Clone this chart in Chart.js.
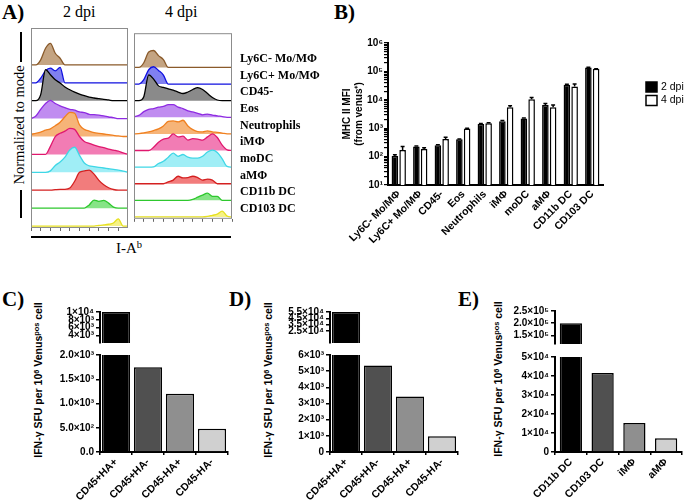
<!DOCTYPE html>
<html>
<head>
<meta charset="utf-8">
<script src="https://cdn.jsdelivr.net/npm/chart.js@4.4.1/dist/chart.umd.min.js"></script>
<style>
  body { margin: 0; width: 685px; height: 504px; position: relative; overflow: hidden; background: #fff;
         font-family: "Liberation Sans", Arial, sans-serif; color: #000; }
  canvas { position: absolute; }
  .t { position: absolute; white-space: nowrap; line-height: 1; }
  .serif { font-family: "Liberation Serif", "Times New Roman", serif; }
  .letter { font-family: "Liberation Serif", serif; font-weight: bold; font-size: 21px; }
  .rot { transform: translate(-50%, -50%) rotate(-90deg); }
  .ytitle { font-weight: bold; font-size: 10.5px; }
  sup { font-size: 70%; vertical-align: 0.45em; }
  .bar { position: absolute; background: #000; }
</style>
</head>
<body>
<div class="t letter" style="left:2px;top:2px">A)</div>
<div class="t serif" style="left:63px;top:4px;font-size:16px">2 dpi</div>
<div class="t serif" style="left:165px;top:4px;font-size:16px">4 dpi</div>
<div class="t serif rot" style="left:19px;top:125px;font-size:14.5px">Normalized to mode</div>
<div class="bar" style="left:20px;top:32px;width:2px;height:30px"></div>
<div class="bar" style="left:20px;top:190px;width:2px;height:28px"></div>
<div class="bar" style="left:31px;top:236px;width:200px;height:2px"></div>
<div class="t serif" style="left:116px;top:240px;font-size:15px">I-A<sup>b</sup></div>
<div class="t letter" style="left:334px;top:2px">B)</div>
<div class="t letter" style="left:2px;top:289px">C)</div>
<div class="t letter" style="left:229px;top:289px">D)</div>
<div class="t letter" style="left:458px;top:289px">E)</div>
<div class="t ytitle rot" style="left:38px;top:380px">IFN-γ SFU per 10<sup>6</sup> Venus<sup>pos</sup> cell</div>
<div class="t ytitle rot" style="left:268px;top:380px">IFN-γ SFU per 10<sup>6</sup> Venus<sup>pos</sup> cell</div>
<div class="t ytitle rot" style="left:498px;top:379px">IFN-γ SFU per 10<sup>6</sup> Venus<sup>pos</sup> cell</div>

<script>
// ---- data ----
const cells = ['Ly6C- Mo/MΦ', 'Ly6C+ Mo/MΦ', 'CD45-', 'Eos', 'Neutrophils', 'iMΦ', 'moDC', 'aMΦ', 'CD11b DC', 'CD103 DC'];

// I-Ab histogram bins (log fluorescence, % of plot width) and heights (% of row spacing)
const bins = [0, 5, 10, 15, 20, 25, 30, 35, 40, 45, 50, 55, 60, 65, 70, 75, 80, 85, 90, 95, 100];
const hist2dpi = [
  [0, 0, 28, 93, 120, 65, 37, 0, 0, 0, 0, 0, 0, 0, 0, 0, 0, 0, 0, 0, 0],          // Ly6C- Mo/MΦ
  [0, 0, 26, 67, 82, 67, 86, 0, 0, 0, 0, 0, 0, 0, 0, 0, 0, 0, 0, 0, 0],           // Ly6C+ Mo/MΦ
  [0, 0, 34, 173, 145, 117, 99, 76, 61, 48, 37, 28, 20, 15, 11, 7, 4, 0, 0, 0, 0],// CD45-
  [0, 15, 52, 84, 102, 84, 71, 61, 52, 47, 37, 34, 24, 22, 19, 15, 9, 6, 0, 0, 0],// Eos
  [12, 18, 25, 35, 43, 60, 80, 110, 135, 130, 65, 40, 30, 22, 18, 14, 10, 6, 3, 0, 0], // Neutrophils
  [0, 0, 0, 0, 45, 99, 118, 130, 145, 140, 100, 72, 62, 52, 44, 38, 30, 24, 18, 8, 0], // iMΦ
  [0, 0, 0, 0, 8, 38, 58, 85, 125, 140, 95, 52, 36, 32, 28, 24, 20, 16, 12, 7, 0],    // moDC
  [0, 0, 0, 0, 0, 3, 5, 5, 12, 50, 100, 108, 112, 90, 55, 30, 14, 4, 0, 0, 0],       // aMΦ
  [0, 0, 0, 0, 0, 0, 0, 0, 0, 0, 0, 0, 18, 45, 38, 43, 28, 6, 0, 0, 0],              // CD11b DC
  [0, 0, 0, 0, 0, 0, 0, 0, 0, 0, 0, 0, 0, 0, 3, 6, 10, 17, 40, 0, 0]                 // CD103 DC
];
const hist4dpi = [
  [0, 0, 28, 93, 102, 71, 47, 0, 0, 0, 0, 0, 0, 0, 0, 0, 0, 0, 0, 0, 0],
  [0, 0, 26, 86, 104, 82, 54, 0, 0, 0, 0, 0, 0, 0, 0, 0, 0, 0, 0, 0, 0],
  [0, 0, 24, 155, 130, 89, 80, 71, 63, 52, 43, 52, 67, 78, 67, 43, 19, 4, 0, 0, 0],
  [3, 11, 34, 48, 52, 61, 65, 76, 76, 61, 52, 39, 32, 24, 15, 19, 13, 9, 4, 0, 0],
  [0, 2, 6, 12, 20, 30, 48, 75, 78, 72, 82, 48, 26, 14, 12, 18, 12, 9, 5, 0, 0],
  [0, 0, 0, 0, 19, 50, 69, 74, 100, 82, 86, 63, 71, 69, 63, 82, 100, 78, 32, 4, 0],
  [0, 0, 0, 0, 2, 22, 35, 60, 84, 65, 76, 60, 54, 54, 65, 91, 102, 88, 50, 4, 0],
  [0, 0, 0, 0, 0, 0, 0, 11, 22, 45, 35, 37, 45, 37, 22, 28, 22, 0, 0, 0, 0],
  [0, 0, 0, 0, 0, 0, 0, 0, 0, 0, 0, 0, 6, 19, 32, 43, 24, 24, 0, 0, 0],
  [0, 0, 0, 0, 0, 0, 0, 0, 0, 0, 0, 0, 0, 0, 0, 3, 10, 17, 35, 5, 0]
];

// MHC II MFI (from venus+), mean and SEM
const mfi2 = [105, 225, 250, 410, 1410, 1770, 2200, 6500, 34000, 138000];
const sem2 = [12, 10, 10, 10, 40, 80, 100, 900, 1000, 2000];
const mfi4 = [172, 186, 420, 970, 1500, 5500, 10500, 5500, 29500, 123000];
const sem4 = [53, 19, 60, 30, 60, 700, 1500, 1000, 6500, 2000];
const logTickLabels = ['10¹', '10²', '10³', '10⁴', '10⁵', '10⁶'];

// IFN-γ SFU per 10^6 Venus-pos cells
const cdLabels = ['CD45+HA+', 'CD45+HA-', 'CD45-HA+', 'CD45-HA-'];
const cValues = [10000, 1750, 1200, 480];
const dValues = [55000, 5350, 3430, 980];
const eLabels = ['CD11b DC', 'CD103 DC', 'iMΦ', 'aMΦ'];
const eValues = [200000, 41600, 15200, 7300];

const cLowTicks = [0, 500, 1000, 1500, 2000];
const cLowLabels = ['0.0', '5.0×10²', '1.0×10³', '1.5×10³', '2.0×10³'];
const cHighTicks = [4000, 6000, 8000, 10000];
const cHighLabels = ['4×10³', '6×10³', '8×10³', '1×10⁴'];
const dLowTicks = [0, 1000, 2000, 3000, 4000, 5000, 6000];
const dLowLabels = ['0', '1×10³', '2×10³', '3×10³', '4×10³', '5×10³', '6×10³'];
const dHighTicks = [25000, 35000, 45000, 55000];
const dHighLabels = ['2.5×10⁴', '3.5×10⁴', '4.5×10⁴', '5.5×10⁴'];
const eLowTicks = [0, 10000, 20000, 30000, 40000, 50000];
const eLowLabels = ['0', '1×10⁴', '2×10⁴', '3×10⁴', '4×10⁴', '5×10⁴'];
const eHighTicks = [150000, 200000, 250000];
const eHighLabels = ['1.5×10⁵', '2.0×10⁵', '2.5×10⁵'];

// ---- styles ----
const lineCols = ['#8a5a2a', '#1010e0', '#000000', '#8e2be2', '#f08020', '#e0186e', '#3fd7e6', '#d42020', '#2ec82e', '#e6e020'];
const fillCols = ['#c4a482', '#8080f0', '#8a8a8a', '#c08cf0', '#f6b478', '#f27cb4', '#a0eef6', '#f27c7c', '#86e486', '#f6f286'];
const grays = ['#000000', '#505050', '#8f8f8f', '#d0d0d0'];

Chart.defaults.font.family = '"Liberation Sans", Arial, sans-serif';
Chart.defaults.color = '#000';
Chart.defaults.animation = false;
Chart.defaults.responsive = false;
Chart.defaults.devicePixelRatio = 1;
Chart.defaults.plugins.legend.display = false;
Chart.defaults.plugins.tooltip.enabled = false;

const fixW = w => s => { s.width = w; };
const fixH = h => s => { s.height = h; };
const bold10 = { weight: 'bold', size: 10 };
const bold11 = { weight: 'bold', size: 10.5 };

function makeCanvas(area, pad) {
  const [x0, y0, x1, y1] = area;
  const c = document.createElement('canvas');
  c.width = x1 - x0 + pad.l + pad.r;
  c.height = y1 - y0 + pad.t + pad.b;
  c.style.left = (x0 - pad.l) + 'px';
  c.style.top = (y0 - pad.t) + 'px';
  document.body.appendChild(c);
  return c;
}

// ---- A: stacked histograms ----
const rowBase = 0.11;
const rowTop = 11.17;

const boxPlugin = {
  id: 'box',
  afterDatasetsDraw(chart) {
    const a = chart.chartArea, ctx = chart.ctx;
    ctx.save();
    ctx.strokeStyle = '#8c8c8c';
    ctx.lineWidth = 1;
    ctx.strokeRect(a.left + 0.5, a.top + 0.5, a.width - 1, a.height - 1);
    ctx.restore();
  }
};

function histSets(hist) {
  return hist.map((h, i) => {
    const base = cells.length - 1 - i + rowBase;
    return {
      data: h.map((v, k) => ({ x: bins[k], y: base + v / 100 })),
      borderColor: lineCols[i],
      backgroundColor: fillCols[i],
      borderWidth: 1.3,
      pointRadius: 0,
      cubicInterpolationMode: 'monotone',
      fill: { value: base },
      order: cells.length - i
    };
  });
}

function histChart(area, pad, hist, names) {
  return new Chart(makeCanvas(area, pad), {
    type: 'line',
    data: { datasets: histSets(hist) },
    options: {
      layout: { padding: { top: pad.t, left: pad.l, right: names ? 0 : pad.r, bottom: 0 } },
      scales: {
        x: {
          type: 'linear', min: 0, max: 100, afterFit: fixH(pad.b),
          grid: { drawOnChartArea: false, tickLength: 3, color: '#666' },
          border: { display: false },
          ticks: { display: false, stepSize: 10 }
        },
        y: {
          min: 0, max: rowTop, position: 'right', display: names, afterFit: fixW(pad.r),
          grid: { display: false, drawTicks: false }, border: { display: false },
          afterBuildTicks: s => { s.ticks = cells.map((n, i) => ({ value: cells.length - 1 - i + rowBase + 0.5 })); },
          ticks: {
            padding: 8, autoSkip: false, font: { family: '"Liberation Serif", serif', weight: 'bold', size: 12 },
            callback: (v, i) => cells[i]
          }
        }
      }
    },
    plugins: [boxPlugin]
  });
}

histChart([31, 28, 128, 228], { l: 0, t: 10, r: 0, b: 6 }, hist2dpi, false);
histChart([134, 28, 232, 228], { l: 0, t: 10, r: 100, b: 6 }, hist4dpi, true);

// ---- B: MHC II MFI, log bars with error bars ----
const errPlugin = {
  id: 'err',
  afterDatasetsDraw(chart) {
    const ctx = chart.ctx, y = chart.scales.y;
    chart.data.datasets.forEach((ds, i) => {
      chart.getDatasetMeta(i).data.forEach((bar, k) => {
        const top = y.getPixelForValue(ds.data[k] + ds.errors[k]);
        const half = bar.width * 0.3;
        ctx.save();
        ctx.strokeStyle = '#000';
        ctx.lineWidth = 1.5;
        ctx.beginPath();
        ctx.moveTo(bar.x, bar.y);
        ctx.lineTo(bar.x, top);
        ctx.moveTo(bar.x - half, top);
        ctx.lineTo(bar.x + half, top);
        ctx.stroke();
        ctx.restore();
      });
    });
  }
};

const sideLegend = {
  id: 'sideLegend',
  afterDraw(chart) {
    const ctx = chart.ctx, a = chart.chartArea;
    ctx.save();
    chart.data.datasets.forEach((ds, i) => {
      const x = a.right + 43, y = a.top + 39 + i * 13.5;
      ctx.fillStyle = ds.backgroundColor;
      ctx.fillRect(x, y, 11, 10);
      ctx.strokeStyle = '#000';
      ctx.lineWidth = 1.5;
      ctx.strokeRect(x, y, 11, 10);
      ctx.fillStyle = '#000';
      ctx.font = '10.5px "Liberation Sans", Arial, sans-serif';
      ctx.textBaseline = 'middle';
      ctx.fillText(ds.label, x + 15, y + 5);
    });
    ctx.restore();
  }
};

new Chart(makeCanvas([388, 43, 603, 185], { l: 52, t: 10, r: 95, b: 75 }), {
  type: 'bar',
  data: {
    labels: cells,
    datasets: [
      { label: '2 dpi', data: mfi2, errors: sem2, backgroundColor: '#000', borderColor: '#000', borderWidth: 1.5 },
      { label: '4 dpi', data: mfi4, errors: sem4, backgroundColor: '#fff', borderColor: '#000', borderWidth: 1.5 }
    ]
  },
  options: {
    layout: { padding: { top: 10, right: 95, left: 0, bottom: 0 } },
    datasets: { bar: { categoryPercentage: 0.72, barPercentage: 0.85 } },
    scales: {
      x: {
        afterFit: fixH(75),
        grid: { display: false, drawTicks: false },
        border: { width: 2, color: '#000' },
        ticks: { minRotation: 45, maxRotation: 45, autoSkip: false, padding: 3, font: bold11 }
      },
      y: {
        type: 'logarithmic', min: 10, max: 1e6, afterFit: fixW(52),
        afterBuildTicks: s => {
          const t = [];
          for (let e = 1; e <= 6; e++) {
            for (let m = 1; m <= (e < 6 ? 9 : 1); m++) t.push({ value: m * Math.pow(10, e) });
          }
          s.ticks = t;
        },
        grid: { drawOnChartArea: false, tickLength: 4, color: '#000', lineWidth: 1.2 },
        border: { width: 2, color: '#000' },
        ticks: {
          font: bold10, padding: 1, autoSkip: false,
          callback: v => {
            const e = Math.log10(v);
            return Math.abs(e - Math.round(e)) < 1e-9 ? logTickLabels[Math.round(e) - 1] : '';
          }
        },
        title: { display: true, text: ['MHC II MFI', '(from venus⁺)'], font: bold10, padding: { top: 5, bottom: 0 } }
      }
    }
  },
  plugins: [errPlugin, sideLegend]
});

// ---- C, D, E: broken-axis bar charts ----
function yAxis(min, max, ticks, labels, width) {
  return {
    min, max, afterFit: fixW(width),
    afterBuildTicks: s => { s.ticks = ticks.map(v => ({ value: v })); },
    grid: { drawOnChartArea: false, tickLength: 4, color: '#000', lineWidth: 1.5 },
    border: { width: 2, color: '#000' },
    ticks: { font: bold10, padding: 2, autoSkip: false, callback: (v, i) => labels[i] }
  };
}

function brokenBars(o) {
  const data = {
    labels: o.labels,
    datasets: [{ data: o.values, backgroundColor: grays, borderColor: '#000', borderWidth: 1.5 }]
  };
  const bars = { bar: { categoryPercentage: 1, barPercentage: o.bp } };
  // lower segment with category axis
  new Chart(makeCanvas(o.low, { l: o.yw, t: 10, r: o.pr, b: 60 }), {
    type: 'bar',
    data,
    options: {
      layout: { padding: { top: 10, right: o.pr, left: 0, bottom: 0 } },
      datasets: bars,
      scales: {
        x: {
          afterFit: fixH(60),
          grid: { drawOnChartArea: false, tickLength: 3, color: '#000', lineWidth: 1.5 },
          border: { width: 2, color: '#000' },
          ticks: { minRotation: 45, maxRotation: 45, autoSkip: false, padding: 1, font: bold11 }
        },
        y: yAxis(0, o.lowTicks[o.lowTicks.length - 1], o.lowTicks, o.lowLabels, o.yw)
      }
    }
  });
  // upper segment above the break
  new Chart(makeCanvas(o.high, { l: o.yw, t: 10, r: o.pr, b: 8 }), {
    type: 'bar',
    data,
    options: {
      layout: { padding: { top: 10, right: o.pr, left: 0, bottom: 8 } },
      datasets: bars,
      scales: {
        x: { display: false },
        y: yAxis(o.highMin, o.highTicks[o.highTicks.length - 1], o.highTicks, o.highLabels, o.yw)
      }
    }
  });
}

brokenBars({
  labels: cdLabels, values: cValues, bp: 0.88, yw: 62, pr: 6,
  low: [100, 355, 228, 452], lowTicks: cLowTicks, lowLabels: cLowLabels,
  high: [100, 312, 228, 343], highMin: 2000, highTicks: cHighTicks, highLabels: cHighLabels
});
brokenBars({
  labels: cdLabels, values: dValues, bp: 0.88, yw: 62, pr: 6,
  low: [330, 355, 458, 452], lowTicks: dLowTicks, lowLabels: dLowLabels,
  high: [330, 312, 458, 343], highMin: 6000, highTicks: dHighTicks, highLabels: dHighLabels
});
brokenBars({
  labels: eLabels, values: eValues, bp: 0.7, yw: 62, pr: 3,
  low: [555, 357, 682, 452], lowTicks: eLowTicks, lowLabels: eLowLabels,
  high: [555, 311, 682, 344], highMin: 115000, highTicks: eHighTicks, highLabels: eHighLabels
});
</script>
</body>
</html>
